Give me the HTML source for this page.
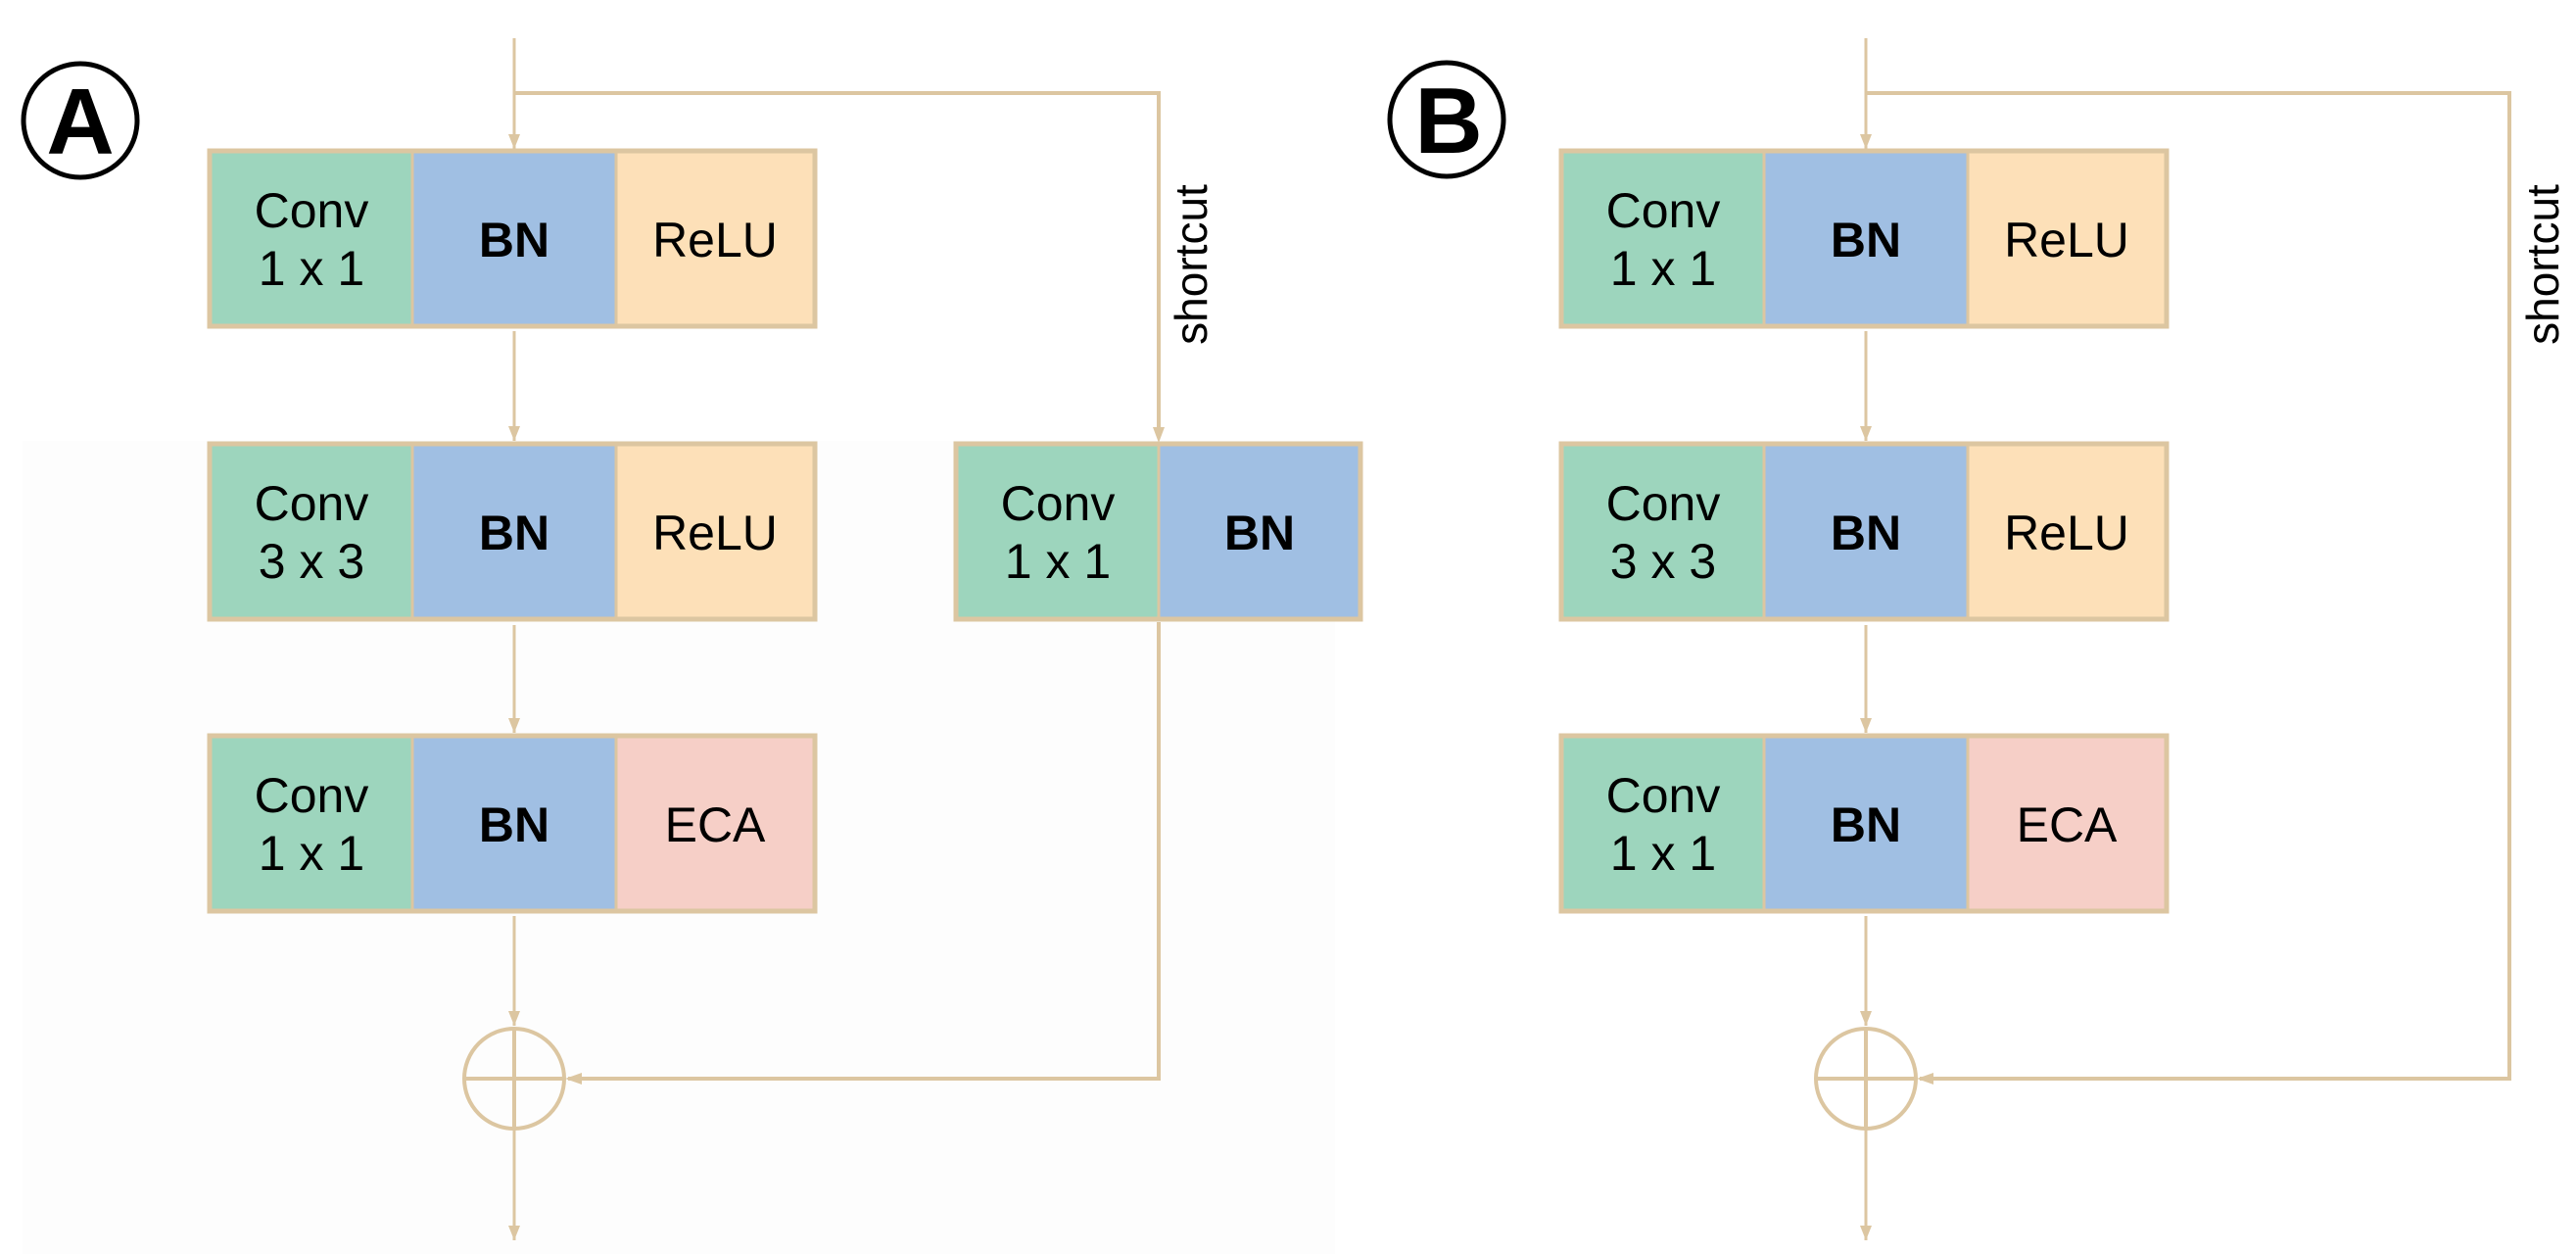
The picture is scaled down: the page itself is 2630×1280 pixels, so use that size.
<!DOCTYPE html>
<html><head><meta charset="utf-8"><style>
html,body{margin:0;padding:0;background:#fff;}
svg{display:block;}
text{font-family:"Liberation Sans",Arial,sans-serif;fill:#000;}
</style></head><body>
<svg width="2630" height="1280" viewBox="0 0 2630 1280" xmlns="http://www.w3.org/2000/svg">
<defs>
<marker id="ah" viewBox="0 0 10 10" refX="10" refY="5" markerWidth="5" markerHeight="5" orient="auto" markerUnits="strokeWidth">
<path d="M0,1 L10,5 L0,9 z" fill="#dcc6a1"/>
</marker>
<g id="block">
  <rect x="214" y="0" width="207" height="179" fill="#9dd5bd"/>
  <rect x="421" y="0" width="208" height="179" fill="#a0bfe3"/>
  <rect x="629" y="0" width="203" height="179" fill="#fde0b8"/>
</g>
</defs>
<rect x="23" y="450" width="1340" height="830" fill="#fdfdfd"/>

<g id="A">
  <ellipse cx="82" cy="123" rx="58" ry="58" fill="none" stroke="#000" stroke-width="5"/>
  <text x="82" y="157" font-size="96" font-weight="bold" text-anchor="middle">A</text>

  <g stroke="#dcc6a1" stroke-width="3" fill="none">
    <line x1="525" y1="39" x2="525" y2="152" marker-end="url(#ah)"/>
    <line x1="525" y1="338" x2="525" y2="450" marker-end="url(#ah)"/>
    <line x1="525" y1="638" x2="525" y2="748" marker-end="url(#ah)"/>
    <line x1="525" y1="935" x2="525" y2="1047" marker-end="url(#ah)"/>
    <line x1="525" y1="1153" x2="525" y2="1266" marker-end="url(#ah)"/>
    <polyline points="525,95 1183,95 1183,440" stroke-width="4"/>
    <polyline points="1183,635 1183,1101 580,1101" stroke-width="4"/>
  </g>
  <path d="M1177,436 L1189,436 L1183,452 z" fill="#dcc6a1"/>
  <path d="M594,1095 L594,1107 L577,1101 z" fill="#dcc6a1"/>
  <circle cx="525" cy="1101" r="51" fill="none" stroke="#dcc6a1" stroke-width="4"/>
  <line x1="474" y1="1101" x2="576" y2="1101" stroke="#dcc6a1" stroke-width="4"/>
  <line x1="525" y1="1050" x2="525" y2="1152" stroke="#dcc6a1" stroke-width="4"/>

  <g transform="translate(0,154)">
    <use href="#block"/>
    <rect x="214" y="0" width="618" height="179" fill="none" stroke="#dcc6a1" stroke-width="5"/>
    <line x1="421" y1="0" x2="421" y2="179" stroke="#dcc6a1" stroke-width="3"/>
    <line x1="629" y1="0" x2="629" y2="179" stroke="#dcc6a1" stroke-width="3"/>
    <text x="318" y="78" font-size="50" text-anchor="middle">Conv</text>
    <text x="318" y="137" font-size="50" text-anchor="middle">1 x 1</text>
    <text x="525" y="108" font-size="50" font-weight="bold" text-anchor="middle">BN</text>
    <text x="730" y="108" font-size="50" text-anchor="middle">ReLU</text>
  </g>
  <g transform="translate(0,453)">
    <use href="#block"/>
    <rect x="214" y="0" width="618" height="179" fill="none" stroke="#dcc6a1" stroke-width="5"/>
    <line x1="421" y1="0" x2="421" y2="179" stroke="#dcc6a1" stroke-width="3"/>
    <line x1="629" y1="0" x2="629" y2="179" stroke="#dcc6a1" stroke-width="3"/>
    <text x="318" y="78" font-size="50" text-anchor="middle">Conv</text>
    <text x="318" y="137" font-size="50" text-anchor="middle">3 x 3</text>
    <text x="525" y="108" font-size="50" font-weight="bold" text-anchor="middle">BN</text>
    <text x="730" y="108" font-size="50" text-anchor="middle">ReLU</text>
  </g>
  <g transform="translate(0,751)">
    <use href="#block"/>
    <rect x="629" y="0" width="203" height="179" fill="#f6cfc7"/>
    <rect x="214" y="0" width="618" height="179" fill="none" stroke="#dcc6a1" stroke-width="5"/>
    <line x1="421" y1="0" x2="421" y2="179" stroke="#dcc6a1" stroke-width="3"/>
    <line x1="629" y1="0" x2="629" y2="179" stroke="#dcc6a1" stroke-width="3"/>
    <text x="318" y="78" font-size="50" text-anchor="middle">Conv</text>
    <text x="318" y="137" font-size="50" text-anchor="middle">1 x 1</text>
    <text x="525" y="108" font-size="50" font-weight="bold" text-anchor="middle">BN</text>
    <text x="730" y="108" font-size="50" text-anchor="middle">ECA</text>
  </g>
  <g transform="translate(0,453)">
    <rect x="976" y="0" width="207" height="179" fill="#9dd5bd"/>
    <rect x="1183" y="0" width="206" height="179" fill="#a0bfe3"/>
    <rect x="976" y="0" width="413" height="179" fill="none" stroke="#dcc6a1" stroke-width="5"/>
    <line x1="1183" y1="0" x2="1183" y2="179" stroke="#dcc6a1" stroke-width="3"/>
    <text x="1080" y="78" font-size="50" text-anchor="middle">Conv</text>
    <text x="1080" y="137" font-size="50" text-anchor="middle">1 x 1</text>
    <text x="1286" y="108" font-size="50" font-weight="bold" text-anchor="middle">BN</text>
  </g>
  <text x="0" y="0" font-size="46" text-anchor="middle" transform="translate(1232,270) rotate(-90)">shortcut</text>
</g>

<g id="B">
  <ellipse cx="1477" cy="122" rx="58" ry="58" fill="none" stroke="#000" stroke-width="5"/>
  <text x="1479" y="156" font-size="96" font-weight="bold" text-anchor="middle">B</text>
  <g transform="translate(1380,0)">
    <g stroke="#dcc6a1" stroke-width="3" fill="none">
      <line x1="525" y1="39" x2="525" y2="152" marker-end="url(#ah)"/>
      <line x1="525" y1="338" x2="525" y2="450" marker-end="url(#ah)"/>
      <line x1="525" y1="638" x2="525" y2="748" marker-end="url(#ah)"/>
      <line x1="525" y1="935" x2="525" y2="1047" marker-end="url(#ah)"/>
      <line x1="525" y1="1153" x2="525" y2="1266" marker-end="url(#ah)"/>
      <polyline points="525,95 1182,95 1182,1101 580,1101" stroke-width="4"/>
    </g>
    <path d="M594,1095 L594,1107 L577,1101 z" fill="#dcc6a1"/>
    <circle cx="525" cy="1101" r="51" fill="none" stroke="#dcc6a1" stroke-width="4"/>
    <line x1="474" y1="1101" x2="576" y2="1101" stroke="#dcc6a1" stroke-width="4"/>
    <line x1="525" y1="1050" x2="525" y2="1152" stroke="#dcc6a1" stroke-width="4"/>

    <g transform="translate(0,154)">
      <use href="#block"/>
      <rect x="214" y="0" width="618" height="179" fill="none" stroke="#dcc6a1" stroke-width="5"/>
      <line x1="421" y1="0" x2="421" y2="179" stroke="#dcc6a1" stroke-width="3"/>
      <line x1="629" y1="0" x2="629" y2="179" stroke="#dcc6a1" stroke-width="3"/>
      <text x="318" y="78" font-size="50" text-anchor="middle">Conv</text>
      <text x="318" y="137" font-size="50" text-anchor="middle">1 x 1</text>
      <text x="525" y="108" font-size="50" font-weight="bold" text-anchor="middle">BN</text>
      <text x="730" y="108" font-size="50" text-anchor="middle">ReLU</text>
    </g>
    <g transform="translate(0,453)">
      <use href="#block"/>
      <rect x="214" y="0" width="618" height="179" fill="none" stroke="#dcc6a1" stroke-width="5"/>
      <line x1="421" y1="0" x2="421" y2="179" stroke="#dcc6a1" stroke-width="3"/>
      <line x1="629" y1="0" x2="629" y2="179" stroke="#dcc6a1" stroke-width="3"/>
      <text x="318" y="78" font-size="50" text-anchor="middle">Conv</text>
      <text x="318" y="137" font-size="50" text-anchor="middle">3 x 3</text>
      <text x="525" y="108" font-size="50" font-weight="bold" text-anchor="middle">BN</text>
      <text x="730" y="108" font-size="50" text-anchor="middle">ReLU</text>
    </g>
    <g transform="translate(0,751)">
      <use href="#block"/>
      <rect x="629" y="0" width="203" height="179" fill="#f6cfc7"/>
      <rect x="214" y="0" width="618" height="179" fill="none" stroke="#dcc6a1" stroke-width="5"/>
      <line x1="421" y1="0" x2="421" y2="179" stroke="#dcc6a1" stroke-width="3"/>
      <line x1="629" y1="0" x2="629" y2="179" stroke="#dcc6a1" stroke-width="3"/>
      <text x="318" y="78" font-size="50" text-anchor="middle">Conv</text>
      <text x="318" y="137" font-size="50" text-anchor="middle">1 x 1</text>
      <text x="525" y="108" font-size="50" font-weight="bold" text-anchor="middle">BN</text>
      <text x="730" y="108" font-size="50" text-anchor="middle">ECA</text>
    </g>
    <text x="0" y="0" font-size="46" text-anchor="middle" transform="translate(1232,270) rotate(-90)">shortcut</text>
  </g>
</g>
</svg>
</body></html>
